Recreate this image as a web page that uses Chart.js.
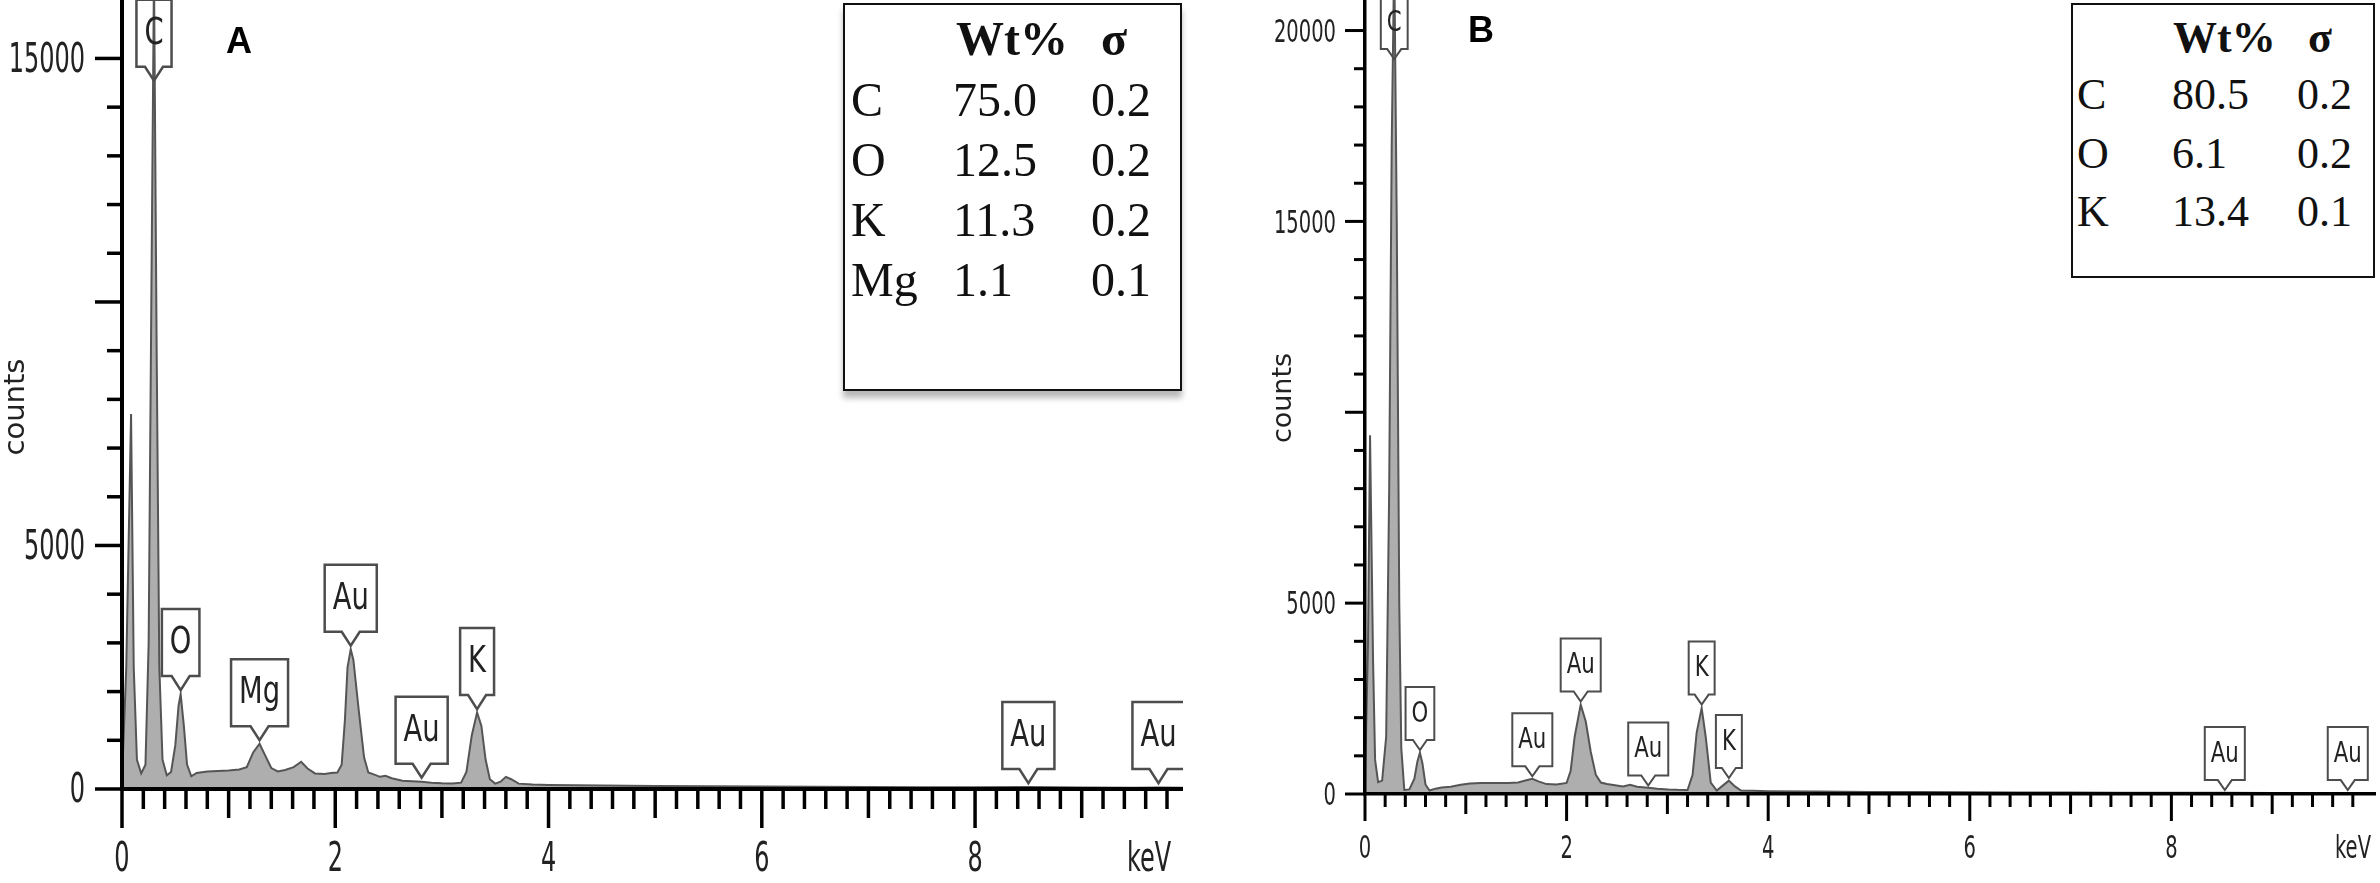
<!DOCTYPE html>
<html>
<head>
<meta charset="utf-8">
<title>EDS spectra A / B</title>
<script src="https://cdn.jsdelivr.net/npm/chart.js@4.4.1/dist/chart.umd.min.js"></script>
<style>
  html, body { margin: 0; padding: 0; background: #fff; }
  body { position: relative; width: 2380px; height: 883px; overflow: hidden; }
  canvas { position: absolute; top: 0; }
  .tag { position: absolute; font: bold 36px "Liberation Sans", Arial, sans-serif; color: #000; line-height: 1; }
  .wt { position: absolute; box-sizing: border-box; border: 2px solid #111; background: #fff; }
  .wt span { position: absolute; white-space: nowrap; line-height: 1; color: #111; font-family: "Liberation Serif", "Times New Roman", serif; }
  .wt .h { font-weight: bold; }
</style>
</head>
<body>
<canvas id="specA" width="1183" height="883" style="left:0"></canvas>
<canvas id="specB" width="1136" height="883" style="left:1240px"></canvas>
<div class="tag" style="left:226px;top:23px">A</div>
<div class="tag" style="left:1468px;top:12px">B</div>
<div id="tableA" class="wt" style="left:843px;top:3px;width:339px;height:388px;box-shadow:0 7px 6px rgba(0,0,0,.28)"></div>
<div id="tableB" class="wt" style="left:2071px;top:3px;width:304px;height:275px"></div>
<script>
// spectrum A (keV / counts)
const energyA = [0.00, 0.04, 0.085, 0.11, 0.14, 0.18, 0.22, 0.25, 0.275, 0.30, 0.325, 0.35, 0.38, 0.42,
  0.46, 0.50, 0.53, 0.55, 0.58, 0.61, 0.65, 0.70, 0.80, 0.90, 1.00, 1.10, 1.17, 1.23, 1.29, 1.34,
  1.40, 1.46, 1.53, 1.61, 1.68, 1.74, 1.81, 1.90, 1.96, 2.02, 2.06, 2.09, 2.115, 2.145, 2.17, 2.22,
  2.27, 2.31, 2.36, 2.42, 2.47, 2.53, 2.63, 2.72, 2.81, 2.90, 3.00, 3.10, 3.18, 3.23, 3.28, 3.33,
  3.37, 3.41, 3.45, 3.50, 3.55, 3.60, 3.65, 3.72, 3.85, 4.00, 4.50, 5.00, 5.50, 6.00, 6.50, 7.00,
  7.50, 8.00, 8.50, 9.00, 9.50, 9.72, 9.95];
const countsA = [200, 2500, 7700, 2500, 600, 320, 500, 3000, 10000, 16800, 9000, 2500, 600, 280,
  350, 900, 1700, 1950, 1300, 500, 260, 330, 360, 370, 380, 400, 450, 750, 930, 700,
  430, 360, 390, 450, 560, 420, 320, 310, 330, 340, 500, 1400, 2500, 2870, 2650, 1620,
  650, 340, 300, 250, 270, 220, 170, 160, 150, 130, 120, 115, 130, 350, 1100, 1570,
  1300, 600, 200, 110, 150, 250, 200, 110, 90, 80, 70, 60, 55, 50, 45, 40,
  38, 35, 40, 30, 28, 32, 25];

// spectrum B
const energyB = [0.00, 0.03, 0.05, 0.08, 0.10, 0.13, 0.17, 0.21, 0.24, 0.265, 0.29, 0.315, 0.34, 0.36,
  0.39, 0.44, 0.49, 0.52, 0.545, 0.57, 0.60, 0.64, 0.70, 0.76, 0.85, 0.95, 1.04, 1.15, 1.30, 1.42,
  1.52, 1.60, 1.66, 1.72, 1.80, 1.90, 2.00, 2.04, 2.08, 2.14, 2.19, 2.24, 2.29, 2.34, 2.40, 2.48,
  2.56, 2.63, 2.70, 2.81, 2.90, 3.01, 3.10, 3.20, 3.25, 3.29, 3.34, 3.38, 3.43, 3.49, 3.54, 3.61,
  3.67, 3.73, 3.85, 4.00, 4.50, 5.00, 5.50, 6.00, 6.50, 7.00, 7.50, 8.00, 8.53, 9.00, 9.50, 9.75, 10.03];
const countsB = [300, 4000, 9400, 3500, 900, 310, 350, 1500, 8000, 17000, 22000, 15000, 5000, 1200,
  105, 120, 400, 850, 1080, 800, 250, 90, 140, 170, 190, 240, 275, 285, 290, 290,
  300, 360, 400, 330, 260, 250, 290, 600, 1500, 2340, 1900, 1100, 500, 300, 260, 230,
  200, 240, 190, 165, 140, 120, 110, 105, 500, 1600, 2250, 1500, 300, 90, 200, 350,
  200, 90, 85, 75, 65, 55, 50, 45, 40, 38, 35, 32, 35, 28, 25, 28, 22];

// element markers: name, energy, counts at the pointer tip
const peakNamesA = ['C', 'O', 'Mg', 'Au', 'Au', 'K', 'Au', 'Au'];
const peakKeVA = [0.30, 0.55, 1.29, 2.145, 2.81, 3.33, 8.50, 9.72];
const peakTipA = [14500, 1990, 960, 2900, 190, 1600, 80, 80];

const peakNamesB = ['C', 'O', 'Au', 'Au', 'Au', 'K', 'K', 'Au', 'Au'];
const peakKeVB = [0.29, 0.545, 1.66, 2.14, 2.81, 3.34, 3.61, 8.53, 9.75];
const peakTipB = [19200, 1100, 410, 2370, 170, 2290, 366, 50, 50];

// tick labels
const xTickLabels = [0, 2, 4, 6, 8];
const yTickLabelsA = [0, 5000, 15000];
const yTickLabelsB = [0, 5000, 15000, 20000];

// quantification tables
const elemA = ['C', 'O', 'K', 'Mg'];
const wtA = ['75.0', '12.5', '11.3', '1.1'];
const sigmaA = ['0.2', '0.2', '0.2', '0.1'];
const elemB = ['C', 'O', 'K'];
const wtB = ['80.5', '6.1', '13.4'];
const sigmaB = ['0.2', '0.2', '0.1'];

const SANS = '"DejaVu Sans", Verdana, sans-serif';

function onLabel(v, list) {
  const r = Math.round(v);
  return Math.abs(v - r) < 1e-6 && list.includes(r) ? String(r) : '';
}

// evenly spaced tick positions (chart.js squeezes stepSize when max is not a multiple)
function stepTicks(last, step) {
  const t = [];
  for (let k = 0; k * step <= last + 1e-9; k++) t.push({ value: Math.round(k * step * 1000) / 1000 });
  return t;
}

// the spectrum software uses a tall narrow face, so text is squeezed sideways
function narrowText(ctx, text, x, y, align, font, sq) {
  ctx.save();
  ctx.translate(x, y);
  ctx.scale(sq, 1);
  ctx.font = font;
  ctx.textAlign = align;
  ctx.textBaseline = 'middle';
  ctx.fillText(text, 0, 0);
  ctx.restore();
}

// tick marks of different lengths, tick labels, captions and the element boxes
const spectrumDecor = {
  id: 'spectrumDecor',
  afterDraw(chart, args, o) {
    const ctx = chart.ctx, a = chart.chartArea;
    const xs = chart.scales.x, ys = chart.scales.y;
    const tickFont = o.tickSize + 'px ' + SANS;
    ctx.save();
    ctx.strokeStyle = '#000';
    ctx.fillStyle = '#222';
    ctx.lineWidth = o.tickWidth;
    xs.ticks.forEach(t => {
      const r = Math.round(t.value);
      const whole = Math.abs(t.value - r) < 1e-6;
      const len = whole ? (r % 2 === 0 ? o.xTicks[2] : o.xTicks[1]) : o.xTicks[0];
      const px = xs.getPixelForValue(t.value);
      ctx.beginPath();
      ctx.moveTo(px, a.bottom);
      ctx.lineTo(px, a.bottom + len);
      ctx.stroke();
      const lab = onLabel(t.value, xTickLabels);
      if (lab) narrowText(ctx, lab, px, a.bottom + o.xLabelDy, 'center', tickFont, o.tickSq);
    });
    ys.ticks.forEach(t => {
      const len = t.value % 5000 === 0 ? o.yTicks[1] : o.yTicks[0];
      const py = ys.getPixelForValue(t.value);
      ctx.beginPath();
      ctx.moveTo(a.left - len, py);
      ctx.lineTo(a.left, py);
      ctx.stroke();
      if (o.yLabels.includes(t.value)) narrowText(ctx, String(t.value), a.left - o.yLabelGap, py + 3, 'right', tickFont, o.tickSq);
    });

    narrowText(ctx, 'keV', o.kevPos[0], o.kevPos[1], 'center', tickFont, o.tickSq);
    ctx.save();
    ctx.translate(o.countsPos[0], o.countsPos[1]);
    ctx.rotate(-Math.PI / 2);
    ctx.font = o.countsSize + 'px ' + SANS;
    ctx.textAlign = 'center';
    ctx.textBaseline = 'middle';
    ctx.fillText('counts', 0, 0);
    ctx.restore();

    const markFont = o.markSize + 'px ' + SANS;
    ctx.strokeStyle = '#4d4d4d';
    ctx.lineWidth = o.markLine;
    o.names.forEach((name, i) => {
      const tx = xs.getPixelForValue(o.energies[i]);
      const ty = ys.getPixelForValue(o.tips[i]) - 2;
      ctx.font = markFont;
      const w = ctx.measureText(name).width * o.markSq + o.markPad * 2;
      const bottom = ty - o.ptrH, top = bottom - o.markH;
      const left = tx - w / 2, right = tx + w / 2;
      ctx.beginPath();
      ctx.moveTo(left, top);
      ctx.lineTo(right, top);
      ctx.lineTo(right, bottom);
      ctx.lineTo(tx + o.ptrW / 2, bottom);
      ctx.lineTo(tx, ty);
      ctx.lineTo(tx - o.ptrW / 2, bottom);
      ctx.lineTo(left, bottom);
      ctx.closePath();
      ctx.stroke();
      narrowText(ctx, name, tx, top + o.markH / 2 + 1, 'center', markFont, o.markSq);
    });
    ctx.restore();
  }
};

function drawSpectrum(id, s) {
  return new Chart(document.getElementById(id), {
    type: 'line',
    data: {
      datasets: [{
        data: s.energy.map((e, i) => ({ x: e, y: s.counts[i] })),
        borderColor: '#555',
        borderWidth: s.lineW,
        backgroundColor: '#aeaeae',
        fill: 'origin',
        pointRadius: 0,
        tension: 0
      }]
    },
    options: {
      responsive: false,
      animation: false,
      events: [],
      layout: { padding: 0 },
      plugins: {
        legend: { display: false },
        tooltip: { enabled: false },
        spectrumDecor: s.decor
      },
      scales: {
        x: {
          type: 'linear', min: 0, max: s.xMax,
          grid: { display: false, drawTicks: false },
          border: { display: true, color: '#000', width: s.axisW, z: 1 },
          afterBuildTicks: sc => { sc.ticks = stepTicks(s.xLastTick, 0.2); },
          ticks: { display: false },
          afterFit: sc => { sc.height = s.xAxisH; sc.paddingLeft = 0; sc.paddingRight = 0; }
        },
        y: {
          type: 'linear', min: 0, max: s.yMax,
          grid: { display: false, drawTicks: false },
          border: { display: true, color: '#000', width: s.axisW, z: 1 },
          afterBuildTicks: sc => { sc.ticks = stepTicks(s.yLastTick, 1000); },
          ticks: { display: false },
          afterFit: sc => { sc.width = s.yAxisW; sc.paddingTop = 0; sc.paddingBottom = 0; }
        }
      }
    },
    plugins: [spectrumDecor]
  });
}

function buildTable(id, elems, wt, sig, L) {
  const box = document.getElementById(id);
  const put = (text, x, base, bold) => {
    const sp = document.createElement('span');
    sp.textContent = text;
    if (bold) sp.className = 'h';
    sp.style.fontSize = L.size + 'px';
    sp.style.left = (x - L.left - 2) + 'px';
    sp.style.top = (base - Math.round(L.size * 0.8375) - L.top - 2) + 'px';
    box.appendChild(sp);
  };
  put('Wt%', L.headWt, L.headBase, true);
  put('σ', L.headSig, L.headBase, true);
  elems.forEach((el, i) => {
    const base = L.row0 + i * L.rowStep;
    put(el, L.nameX, base);
    put(wt[i], L.wtX, base);
    put(sig[i], L.sigX, base);
  });
}

drawSpectrum('specA', {
  energy: energyA, counts: countsA,
  xMax: 9.95, yMax: 16200, xLastTick: 9.8, yLastTick: 15000,
  yAxisW: 122, xAxisH: 94, axisW: 4, lineW: 2,
  decor: {
    names: peakNamesA, energies: peakKeVA, tips: peakTipA, yLabels: yTickLabelsA,
    tickWidth: 3.5, xTicks: [20, 29, 39], yTicks: [15, 27],
    tickSize: 40, tickSq: 0.6, xLabelDy: 72, yLabelGap: 37,
    kevPos: [1149, 861], countsPos: [16, 407], countsSize: 29,
    markSize: 37, markSq: 0.74, markLine: 2.5, markPad: 8, markH: 67, ptrH: 14, ptrW: 18
  }
});

drawSpectrum('specB', {
  energy: energyB, counts: countsB,
  xMax: 10.03, yMax: 20800, xLastTick: 9.8, yLastTick: 20000,
  yAxisW: 125, xAxisH: 89, axisW: 3.5, lineW: 2,
  decor: {
    names: peakNamesB, energies: peakKeVB, tips: peakTipB, yLabels: yTickLabelsB,
    tickWidth: 3, xTicks: [13, 20, 27], yTicks: [11, 20],
    tickSize: 32, tickSq: 0.61, xLabelDy: 56, yLabelGap: 29,
    kevPos: [1113, 850], countsPos: [44, 398], countsSize: 27,
    markSize: 28, markSq: 0.76, markLine: 2, markPad: 6, markH: 53, ptrH: 10, ptrW: 14
  }
});

buildTable('tableA', elemA, wtA, sigmaA, {
  left: 843, top: 3, size: 48, headWt: 956, headSig: 1101, headBase: 55,
  nameX: 851, wtX: 953, sigX: 1091, row0: 116, rowStep: 60
});
buildTable('tableB', elemB, wtB, sigmaB, {
  left: 2071, top: 3, size: 44, headWt: 2173, headSig: 2308, headBase: 53,
  nameX: 2077, wtX: 2172, sigX: 2297, row0: 110, rowStep: 58.5
});
</script>
</body>
</html>
